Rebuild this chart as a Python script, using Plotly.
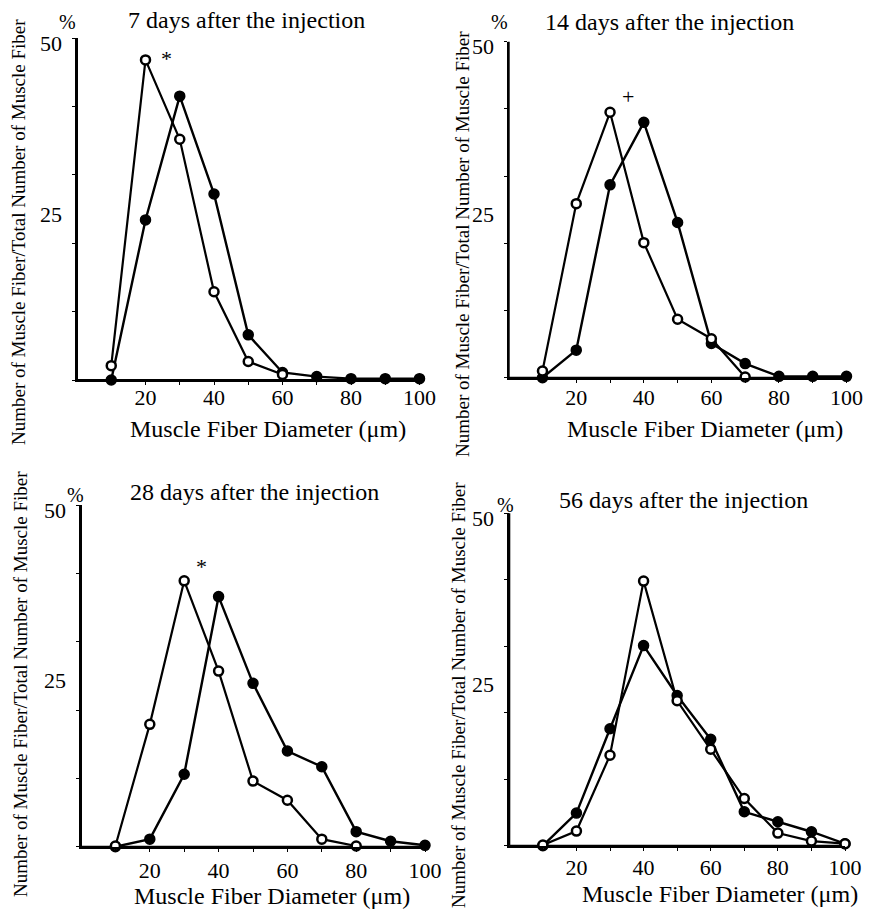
import plotly.graph_objects as go

# page body has an 8px margin; figure sized to fit the 882x912 window exactly
OFF = 8
W, H = 882 - OFF, 912 - OFF
FONT = "Liberation Serif"

# ---- data ----
diameter = [10, 20, 30, 40, 50, 60, 70, 80, 90, 100]

d7_open = [2.1, 46.8, 35.2, 12.9, 2.7, 0.8]
d7_filled = [0, 23.4, 41.5, 27.2, 6.6, 1.1, 0.5, 0.2, 0.2, 0.2]

d14_open = [1.0, 25.9, 39.5, 20.1, 8.7, 5.8, 0.1]
d14_filled = [0, 4.1, 28.7, 38.0, 23.1, 5.1, 2.1, 0.2, 0.2, 0.2]

d28_open = [0.1, 17.9, 38.9, 25.7, 9.6, 6.8, 1.1, 0.1]
d28_filled = [0, 1.1, 10.6, 36.6, 23.9, 14.0, 11.7, 2.2, 0.8, 0.2]

d56_open = [0.1, 2.2, 13.6, 39.8, 21.8, 14.5, 7.1, 1.9, 0.7, 0.3]
d56_filled = [0, 4.9, 17.6, 30.1, 22.6, 16.0, 5.1, 3.6, 2.1, 0.3]

titles = ["7 days after the injection", "14 days after the injection",
          "28 days after the injection", "56 days after the injection"]
x_tickvals = [10, 20, 30, 40, 50, 60, 70, 80, 90, 100]
x_ticktext = ["", "20", "", "40", "", "60", "", "80", "", "100"]
y_tickvals = [0, 10, 20, 30, 40, 50]
y_labels = [("25", 25), ("50", 50)]
marks = [("*", 26.2, 47.0), ("+", 35.2, 41.8), ("*", 35.0, 41.0), None]

open_series = [d7_open, d14_open, d28_open, d56_open]
filled_series = [d7_filled, d14_filled, d28_filled, d56_filled]

# panel pixel geometry (window pixels): x0, x100, y0, y50
panels = [
    (77, 419.5, 380, 38),
    (508.7, 846.5, 377.7, 41.7),
    (81, 425, 846.7, 505),
    (509.3, 845, 845.7, 513.3),
]
xlabel_standoff = [-6, -4, 0, -2]
title_pos = [(246, 20), (669, 22), (255, 492), (683, 500)]
xtitle_pos = [(268, 429), (705, 429), (272, 896), (720, 894)]
ytitle_pos = [(19, 232), (462, 244), (20, 684), (458, 695)]
pct_pos = [(67, 22), (499, 22), (75, 495), (505, 505)]


def px(x):
    return (x - OFF) / W


def py(y):
    return 1 - (y - OFF) / H


fig = go.Figure()
layout = dict(
    width=W, height=H, autosize=False,
    margin=dict(l=0, r=0, t=0, b=0, pad=0, autoexpand=False),
    paper_bgcolor="white", plot_bgcolor="white", showlegend=False,
    font=dict(family=FONT, color="black"),
)
annotations = []
shapes = []

for i in range(4):
    n = "" if i == 0 else str(i + 1)
    x0, x1, y0, y1 = panels[i]
    xa = "x" + n
    ya = "y" + n
    layout["xaxis" + n] = dict(
        domain=[px(x0), px(x1)], range=[0, 100], anchor=ya, automargin=False,
        showline=True, linecolor="black", linewidth=2, showgrid=False, zeroline=False,
        tickmode="array", tickvals=x_tickvals, ticktext=x_ticktext,
        ticks="outside", ticklen=3, tickwidth=1, tickcolor="black",
        ticklabelstandoff=xlabel_standoff[i],
        tickfont=dict(family=FONT, size=22, color="black"),
    )
    layout["yaxis" + n] = dict(
        domain=[py(y0), py(y1)], range=[0, 50], anchor=xa, automargin=False,
        showline=True, linecolor="black", linewidth=2, showgrid=False, zeroline=False,
        tickmode="array", tickvals=y_tickvals, showticklabels=False,
        ticks="outside", ticklen=3, tickwidth=1, tickcolor="black",
    )
    # axis frame lines (left and bottom), referenced to the axis domains
    shapes.append(dict(type="line", xref=xa + " domain", yref=ya + " domain",
                       x0=0, x1=1, y0=0, y1=0, layer="below",
                       line=dict(color="black", width=2)))
    shapes.append(dict(type="line", xref=xa + " domain", yref=ya + " domain",
                       x0=0, x1=0, y0=0, y1=1, layer="below",
                       line=dict(color="black", width=2)))
    fs = filled_series[i]
    os_ = open_series[i]
    fig.add_trace(go.Scatter(
        x=diameter[:len(fs)], y=fs, xaxis=xa, yaxis=ya, mode="lines+markers",
        line=dict(color="black", width=2.4), cliponaxis=False,
        marker=dict(symbol="circle", size=10, color="black",
                    line=dict(color="black", width=1.5)),
    ))
    fig.add_trace(go.Scatter(
        x=diameter[:len(os_)], y=os_, xaxis=xa, yaxis=ya, mode="lines+markers",
        line=dict(color="black", width=2.2), cliponaxis=False,
        marker=dict(symbol="circle", size=9, color="white",
                    line=dict(color="black", width=2.5)),
    ))
    for lab, val in y_labels:
        annotations.append(dict(
            text=lab, x=0, y=val, xref=xa, yref=ya,
            xanchor="right", yanchor="middle", xshift=-13, yshift=-5, showarrow=False,
            font=dict(family=FONT, size=22, color="black"),
        ))
    annotations.append(dict(
        text=titles[i], x=px(title_pos[i][0]), y=py(title_pos[i][1]),
        xref="paper", yref="paper", xanchor="center", yanchor="middle", showarrow=False,
        font=dict(family=FONT, size=24, color="black"),
    ))
    annotations.append(dict(
        text="Muscle Fiber Diameter (μm)", x=px(xtitle_pos[i][0]), y=py(xtitle_pos[i][1]),
        xref="paper", yref="paper", xanchor="center", yanchor="middle", showarrow=False,
        font=dict(family=FONT, size=24, color="black"),
    ))
    annotations.append(dict(
        text="Number of Muscle Fiber/Total Number of Muscle Fiber",
        x=px(ytitle_pos[i][0]), y=py(ytitle_pos[i][1]), textangle=-90,
        xref="paper", yref="paper", xanchor="center", yanchor="middle", showarrow=False,
        font=dict(family=FONT, size=19, color="black"),
    ))
    annotations.append(dict(
        text="%", x=px(pct_pos[i][0]), y=py(pct_pos[i][1]),
        xref="paper", yref="paper", xanchor="center", yanchor="middle", showarrow=False,
        font=dict(family=FONT, size=20, color="black"),
    ))
    if marks[i]:
        sym, mx, my = marks[i]
        annotations.append(dict(
            text=sym, x=mx, y=my, xref=xa, yref=ya, showarrow=False,
            font=dict(family=FONT, size=22, color="black"),
        ))

layout["annotations"] = annotations
layout["shapes"] = shapes
fig.update_layout(**layout)
fig.write_html("out.html")
